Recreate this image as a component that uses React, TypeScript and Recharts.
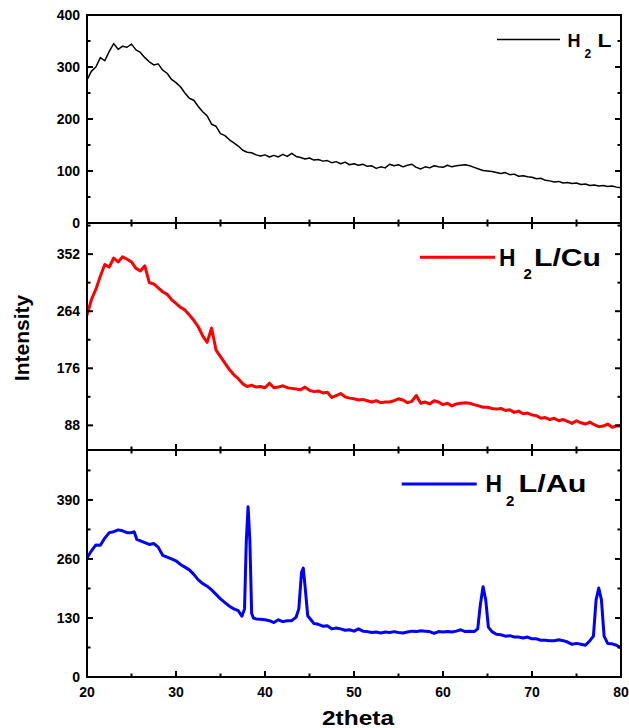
import React from 'react';
import { LineChart, Line, XAxis, YAxis } from 'recharts';

// 2theta positions (degrees) for H2L and H2L/Cu scans
const theta = [20,20.5,21,21.5,22,22.5,23,23.5,24,24.5,25,25.5,26,26.5,27,27.5,28,28.5,29,29.5,30,30.5,31,31.5,32,32.5,33,33.5,34,34.5,35,35.5,36,36.5,37,37.5,38,38.5,39,39.5,40,40.5,41,41.5,42,42.5,43,43.5,44,44.5,45,45.5,46,46.5,47,47.5,48,48.5,49,49.5,50,50.5,51,51.5,52,52.5,53,53.5,54,54.5,55,55.5,56,56.5,57,57.5,58,58.5,59,59.5,60,60.5,61,61.5,62,62.5,63,63.5,64,64.5,65,65.5,66,66.5,67,67.5,68,68.5,69,69.5,70,70.5,71,71.5,72,72.5,73,73.5,74,74.5,75,75.5,76,76.5,77,77.5,78,78.5,79,79.5,80];

const h2l = [275,292,300,318,312,330,345,334,340,338,
  344,333,328,318,310,304,306,294,288,276,
  270,262,250,240,236,224,214,206,190,186,
  172,168,160,154,148,140,136,135,131,129,
  131,127,130,127,132,128,134,128,126,123,
  125,121,122,119,120,116,118,114,117,112,
  114,111,113,109,110,105,108,106,113,110,
  112,108,111,113,107,104,108,106,110,108,
  107,111,108,110,111,112,110,107,104,101,
  100,99,97,95,97,93,94,90,91,89,
  88,85,86,82,81,79,80,77,78,76,
  77,74,75,72,73,71,72,70,71,69,
  68];

const h2lCu = [258,282,298,318,336,332,346,340,348,344,
  340,330,326,334,308,306,300,294,290,282,
  276,270,266,258,250,240,226,216,238,204,
  194,184,174,166,160,152,148,150,147,148,
  146,153,146,147,149,146,145,144,143,147,
  142,140,141,138,139,131,134,137,132,130,
  129,127,128,126,124,126,123,124,124,126,
  129,127,123,125,134,122,124,121,126,124,
  120,122,118,121,122,123,122,120,118,116,
  116,114,113,114,111,112,108,110,106,107,
  104,103,99,100,97,99,95,97,94,91,
  95,92,90,93,89,86,87,90,85,87,
  87];

// 2theta positions for H2L/Au scan (denser around the Au reflections)
const thetaAu = [20,20.5,21,21.5,22,22.5,23,23.5,24,24.5,
  25,25.3,25.6,26,26.5,27,27.5,28,28.5,29,
  29.5,30,30.5,31,31.5,32,32.5,33,33.5,34,
  34.5,35,35.5,36,36.5,37,37.4,37.7,37.9,38.1,
  38.3,38.5,38.7,39,39.5,40,40.5,41,41.5,42,
  42.5,43,43.5,43.8,44.1,44.3,44.5,44.8,45,45.5,
  46,46.5,47,47.5,48,48.5,49,49.5,50,50.5,
  51,51.5,52,52.5,53,53.5,54,54.5,55,55.5,
  56,56.5,57,57.5,58,58.5,59,59.5,60,60.5,
  61,61.5,62,62.5,63,63.5,63.9,64.2,64.5,64.8,
  65.1,65.5,66,66.5,67,67.5,68,68.5,69,69.5,
  70,70.5,71,71.5,72,72.5,73,73.5,74,74.5,
  75,75.5,76,76.5,76.9,77.2,77.5,77.8,78.1,78.5,
  79,79.5,80];

const h2lAu = [262,278,291,290,306,318,320,324,322,318,
  318,320,303,300,296,292,294,286,268,264,
  260,256,248,242,236,226,214,206,200,192,
  182,172,164,156,150,146,134,150,300,375,
  300,140,130,128,127,126,124,120,126,122,
  124,124,132,150,230,240,200,135,130,118,
  116,112,113,106,108,106,103,104,101,106,
  101,100,98,99,97,99,98,100,98,97,
  99,101,100,102,101,100,96,100,99,100,
  99,101,104,100,101,100,106,160,199,170,
  110,100,94,93,90,91,88,88,86,88,
  84,84,81,81,80,80,82,80,77,72,
  74,72,70,80,90,170,196,170,90,74,
  73,70,64];

const xTicks = [20,25,30,35,40,45,50,55,60,65,70,75,80];
const xMajor = [20,30,40,50,60,70,80];

const yTicks1 = [0,50,100,150,200,250,300,350,400];
const yMajor1 = [0,100,200,300,400];
const yTicks2 = [88,132,176,220,264,308,352,396];
const yMajor2 = [88,176,264,352];
const yTicks3 = [0,65,130,195,260,325,390,455];
const yMajor3 = [0,130,260,390];

const FONT = '"Liberation Sans", Arial, Helvetica, sans-serif';
const axisLine = { stroke: '#000', strokeWidth: 2, strokeLinecap: 'square' as const };

const mkXTick = (dir: 'up' | 'down', showLabel: boolean) => (props: any) => {
  const { x, y, payload } = props;
  const major = xMajor.includes(payload.value);
  const len = major ? 6 : 3.5;
  const y2 = dir === 'up' ? y - len : y + len;
  return (
    <g>
      <line x1={x} x2={x} y1={y} y2={y2} stroke="#000" strokeWidth={2} />
      {showLabel && major && (
        <text x={x} y={y + 20} textAnchor="middle" fontFamily={FONT} fontWeight="bold" fontSize={14} fill="#000">
          {payload.value}
        </text>
      )}
    </g>
  );
};

const mkYTick = (side: 'left' | 'right', majors: number[]) => (props: any) => {
  const { x, y, payload } = props;
  const major = majors.includes(payload.value);
  const len = major ? 6 : 3.5;
  const x2 = side === 'left' ? x + len : x - len;
  return (
    <g>
      <line x1={x} x2={x2} y1={y} y2={y} stroke="#000" strokeWidth={2} />
      {side === 'left' && major && (
        <text x={x - 7} y={y} dy="0.36em" textAnchor="end" fontFamily={FONT} fontWeight="bold" fontSize={14} fill="#000">
          {payload.value}
        </text>
      )}
    </g>
  );
};

type PanelProps = {
  data: { theta: number; v: number }[];
  top: number;
  height: number;
  mTop: number;
  mBottom: number;
  domain: [number, number];
  yTicks: number[];
  yMajor: number[];
  color: string;
  strokeWidth: number;
  topTicks: boolean;
  bottomLabels: boolean;
};

const Panel = (p: PanelProps) => (
  <div style={{ position: 'absolute', left: 0, top: p.top, width: 629, height: p.height }}>
    <LineChart width={629} height={p.height} data={p.data} margin={{ top: p.mTop - 1, right: 7, bottom: p.mBottom - 1, left: 86 }}>
      <XAxis xAxisId="b" dataKey="theta" type="number" domain={[20, 80]} ticks={xTicks} interval={0}
        height={1} tickSize={0} tickMargin={0} tickLine={false} axisLine={axisLine}
        tick={mkXTick('up', p.bottomLabels)} allowDataOverflow />
      <XAxis xAxisId="t" orientation="top" dataKey="theta" type="number" domain={[20, 80]} ticks={xTicks} interval={0}
        height={1} tickSize={0} tickMargin={0} tickLine={false} axisLine={axisLine}
        tick={p.topTicks ? mkXTick('down', false) : false} allowDataOverflow />
      <YAxis yAxisId="l" type="number" domain={p.domain} ticks={p.yTicks} interval={0}
        width={1} tickSize={0} tickMargin={0} tickLine={false} axisLine={axisLine}
        tick={mkYTick('left', p.yMajor)} allowDataOverflow />
      <YAxis yAxisId="r" orientation="right" type="number" domain={p.domain} ticks={p.yTicks} interval={0}
        width={1} tickSize={0} tickMargin={0} tickLine={false} axisLine={axisLine}
        tick={mkYTick('right', p.yMajor)} allowDataOverflow />
      <Line xAxisId="b" yAxisId="l" type="linear" dataKey="v" stroke={p.color} strokeWidth={p.strokeWidth}
        strokeLinejoin="round" dot={false} activeDot={false} isAnimationActive={false} />
    </LineChart>
  </div>
);

export default function App() {
  const d1 = theta.map((t, i) => ({ theta: t, v: h2l[i] }));
  const d2 = theta.map((t, i) => ({ theta: t, v: h2lCu[i] }));
  const d3 = thetaAu.map((t, i) => ({ theta: t, v: h2lAu[i] }));
  return (
    <div style={{ position: 'absolute', left: 0, top: 0, width: 629, height: 728, background: '#fff', overflow: 'hidden' }}>
      <Panel data={d1} top={0} height={240} mTop={15} mBottom={17} domain={[0, 400]} yTicks={yTicks1} yMajor={yMajor1}
        color="#000" strokeWidth={1.5} topTicks={false} bottomLabels={false} />
      <Panel data={d2} top={200} height={270} mTop={23} mBottom={20} domain={[50, 400]} yTicks={yTicks2} yMajor={yMajor2}
        color="#ff0000" strokeWidth={3} topTicks={true} bottomLabels={false} />
      <Panel data={d3} top={430} height={298} mTop={20} mBottom={51} domain={[0, 500]} yTicks={yTicks3} yMajor={yMajor3}
        color="#0000ff" strokeWidth={3} topTicks={true} bottomLabels={true} />
      <svg width={629} height={728} style={{ position: 'absolute', left: 0, top: 0, pointerEvents: 'none' }}>
        <g fontFamily={FONT} fontWeight="bold" fill="#000">
          {/* legend 1 */}
          <line x1={497} x2={560} y1={39.5} y2={39.5} stroke="#000" strokeWidth={1.5} />
          <text x={567.5} y={46.7} fontSize={18} textLength={13} lengthAdjust="spacingAndGlyphs">H</text>
          <text x={584.5} y={58} fontSize={12}>2</text>
          <text x={597.5} y={46.7} fontSize={18} textLength={14} lengthAdjust="spacingAndGlyphs">L</text>
          {/* legend 2 */}
          <line x1={420} x2={495} y1={257.3} y2={257.3} stroke="#ff0000" strokeWidth={3} />
          <text x={499} y={265.5} fontSize={24} textLength={16.5} lengthAdjust="spacingAndGlyphs">H</text>
          <text x={523.5} y={279} fontSize={15}>2</text>
          <text x={534} y={265.5} fontSize={24} textLength={67} lengthAdjust="spacingAndGlyphs">L/Cu</text>
          {/* legend 3 */}
          <line x1={401.7} x2={476.7} y1={484} y2={484} stroke="#0000ff" strokeWidth={3} />
          <text x={485.5} y={491.7} fontSize={24} textLength={16.5} lengthAdjust="spacingAndGlyphs">H</text>
          <text x={506} y={505.5} fontSize={15}>2</text>
          <text x={518.5} y={491.7} fontSize={24} textLength={68} lengthAdjust="spacingAndGlyphs">L/Au</text>
          {/* axis titles */}
          <text x={29} y={338} fontSize={21} textAnchor="middle" transform="rotate(-90 29 338)">Intensity</text>
          <text x={322} y={724.5} fontSize={21} textLength={72} lengthAdjust="spacingAndGlyphs">2theta</text>
        </g>
      </svg>
    </div>
  );
}
